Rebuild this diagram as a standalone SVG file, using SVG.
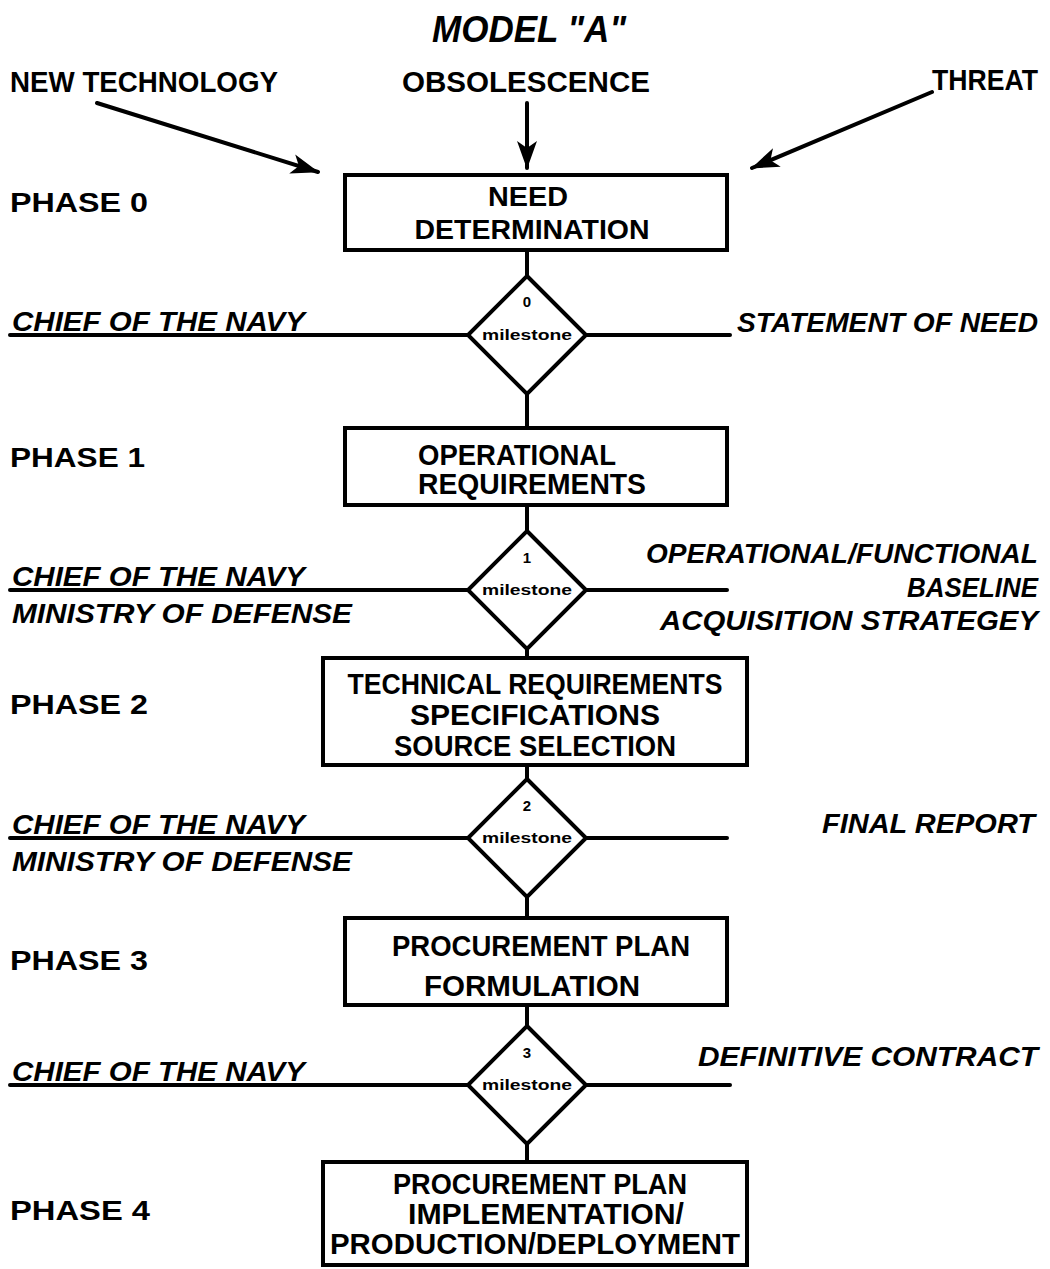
<svg xmlns="http://www.w3.org/2000/svg" width="1050" height="1269" viewBox="0 0 1050 1269">
<style>
text{font-family:"Liberation Sans",Arial,sans-serif;fill:#000;font-weight:bold}
.t{font-size:29px}
.s{font-size:27px}
.c{text-anchor:middle}
.e{text-anchor:end}
.it{font-style:italic;font-size:27px}
.ph{font-size:27px}
.ms{font-size:15px;text-anchor:middle}
.title{font-style:italic;font-weight:bold;font-size:37px}
.box{fill:#fff;stroke:#000;stroke-width:4}
.dia{fill:#fff;stroke:#000;stroke-width:4;stroke-linejoin:miter}
.ln{stroke:#000;stroke-width:4;fill:none;stroke-linecap:round}
</style>
<defs>
<marker id="ah" markerUnits="userSpaceOnUse" markerWidth="32" markerHeight="22" refX="27" refY="10" orient="auto">
<path d="M0,0 L28,10 L0,20 L7,10 z" fill="#000"/>
</marker>
</defs>
<rect width="1050" height="1269" fill="#fff"/>

<text class="title c" x="529" y="42" textLength="194" lengthAdjust="spacingAndGlyphs">MODEL "A"</text>

<g id="inputs">
<text class="t" x="10" y="92" textLength="268" lengthAdjust="spacingAndGlyphs">NEW TECHNOLOGY</text>
<text class="t" x="402" y="92" textLength="248" lengthAdjust="spacingAndGlyphs">OBSOLESCENCE</text>
<text class="t" x="932" y="90" textLength="106" lengthAdjust="spacingAndGlyphs">THREAT</text>
</g>

<g id="phases">
<text class="ph" x="10" y="212" textLength="138" lengthAdjust="spacingAndGlyphs">PHASE  0</text>
<text class="ph" x="10" y="467" textLength="135" lengthAdjust="spacingAndGlyphs">PHASE  1</text>
<text class="ph" x="10" y="714" textLength="138" lengthAdjust="spacingAndGlyphs">PHASE  2</text>
<text class="ph" x="10" y="970" textLength="138" lengthAdjust="spacingAndGlyphs">PHASE  3</text>
<text class="ph" x="10" y="1220" textLength="140" lengthAdjust="spacingAndGlyphs">PHASE  4</text>
</g>

<g id="connectors">
<line class="ln" x1="97" y1="103" x2="318" y2="172" marker-end="url(#ah)"/>
<line class="ln" x1="527" y1="103" x2="527" y2="168" marker-end="url(#ah)"/>
<line class="ln" x1="932" y1="92" x2="752" y2="168" marker-end="url(#ah)"/>
<line class="ln" x1="527" y1="250" x2="527" y2="276"/>
<line class="ln" x1="527" y1="394" x2="527" y2="428"/>
<line class="ln" x1="527" y1="505" x2="527" y2="531"/>
<line class="ln" x1="527" y1="649" x2="527" y2="658"/>
<line class="ln" x1="527" y1="765" x2="527" y2="779"/>
<line class="ln" x1="527" y1="897" x2="527" y2="918"/>
<line class="ln" x1="527" y1="1005" x2="527" y2="1026"/>
<line class="ln" x1="527" y1="1144" x2="527" y2="1162"/>
<line class="ln" x1="10" y1="335" x2="468" y2="335"/>
<line class="ln" x1="586" y1="335" x2="730" y2="335"/>
<line class="ln" x1="10" y1="590" x2="468" y2="590"/>
<line class="ln" x1="586" y1="590" x2="727" y2="590"/>
<line class="ln" x1="10" y1="838" x2="468" y2="838"/>
<line class="ln" x1="586" y1="838" x2="727" y2="838"/>
<line class="ln" x1="10" y1="1085" x2="468" y2="1085"/>
<line class="ln" x1="586" y1="1085" x2="730" y2="1085"/>
</g>

<g id="need-determination">
<rect class="box" x="345" y="175" width="382" height="75"/>
<text class="s c" x="528" y="206" textLength="80" lengthAdjust="spacingAndGlyphs">NEED</text>
<text class="s c" x="532" y="239" textLength="235" lengthAdjust="spacingAndGlyphs">DETERMINATION</text>
</g>

<g id="milestone0">
<polygon class="dia" points="527,276 586,335 527,394 468,335"/>
<text class="ms" x="527" y="307">0</text>
<text class="ms" x="527" y="340" textLength="90" lengthAdjust="spacingAndGlyphs">milestone</text>
<text class="it" x="12" y="331" textLength="293" lengthAdjust="spacingAndGlyphs">CHIEF OF THE NAVY</text>
<text class="it e" x="1038" y="332" textLength="301" lengthAdjust="spacingAndGlyphs">STATEMENT OF NEED</text>
</g>

<g id="operational-requirements">
<rect class="box" x="345" y="428" width="382" height="77"/>
<text class="t c" x="517" y="465" textLength="198" lengthAdjust="spacingAndGlyphs">OPERATIONAL</text>
<text class="t c" x="532" y="494" textLength="228" lengthAdjust="spacingAndGlyphs">REQUIREMENTS</text>
</g>

<g id="milestone1">
<polygon class="dia" points="527,531 586,590 527,649 468,590"/>
<text class="ms" x="527" y="563">1</text>
<text class="ms" x="527" y="595" textLength="90" lengthAdjust="spacingAndGlyphs">milestone</text>
<text class="it" x="12" y="586" textLength="293" lengthAdjust="spacingAndGlyphs">CHIEF OF THE NAVY</text>
<text class="it" x="12" y="623" textLength="340" lengthAdjust="spacingAndGlyphs">MINISTRY  OF  DEFENSE</text>
<text class="it e" x="1038" y="563" textLength="392" lengthAdjust="spacingAndGlyphs">OPERATIONAL/FUNCTIONAL</text>
<text class="it e" x="1038" y="597" textLength="131" lengthAdjust="spacingAndGlyphs">BASELINE</text>
<text class="it e" x="1038" y="630" textLength="378" lengthAdjust="spacingAndGlyphs">ACQUISITION  STRATEGEY</text>
</g>

<g id="technical-requirements">
<rect class="box" x="323" y="658" width="424" height="107"/>
<text class="t c" x="535" y="694" textLength="375" lengthAdjust="spacingAndGlyphs">TECHNICAL REQUIREMENTS</text>
<text class="t c" x="535" y="725" textLength="250" lengthAdjust="spacingAndGlyphs">SPECIFICATIONS</text>
<text class="t c" x="535" y="756" textLength="282" lengthAdjust="spacingAndGlyphs">SOURCE SELECTION</text>
</g>

<g id="milestone2">
<polygon class="dia" points="527,779 586,838 527,897 468,838"/>
<text class="ms" x="527" y="811">2</text>
<text class="ms" x="527" y="843" textLength="90" lengthAdjust="spacingAndGlyphs">milestone</text>
<text class="it" x="12" y="834" textLength="293" lengthAdjust="spacingAndGlyphs">CHIEF OF THE NAVY</text>
<text class="it" x="12" y="871" textLength="340" lengthAdjust="spacingAndGlyphs">MINISTRY  OF  DEFENSE</text>
<text class="it e" x="1035" y="833" textLength="213" lengthAdjust="spacingAndGlyphs">FINAL REPORT</text>
</g>

<g id="procurement-formulation">
<rect class="box" x="345" y="918" width="382" height="87"/>
<text class="t c" x="541" y="956" textLength="298" lengthAdjust="spacingAndGlyphs">PROCUREMENT PLAN</text>
<text class="t c" x="532" y="996" textLength="216" lengthAdjust="spacingAndGlyphs">FORMULATION</text>
</g>

<g id="milestone3">
<polygon class="dia" points="527,1026 586,1085 527,1144 468,1085"/>
<text class="ms" x="527" y="1058">3</text>
<text class="ms" x="527" y="1090" textLength="90" lengthAdjust="spacingAndGlyphs">milestone</text>
<text class="it" x="12" y="1081" textLength="293" lengthAdjust="spacingAndGlyphs">CHIEF OF THE NAVY</text>
<text class="it e" x="1038" y="1066" textLength="340" lengthAdjust="spacingAndGlyphs">DEFINITIVE  CONTRACT</text>
</g>

<g id="procurement-implementation">
<rect class="box" x="323" y="1162" width="424" height="103"/>
<text class="t c" x="540" y="1194" textLength="294" lengthAdjust="spacingAndGlyphs">PROCUREMENT PLAN</text>
<text class="t c" x="546" y="1224" textLength="276" lengthAdjust="spacingAndGlyphs">IMPLEMENTATION/</text>
<text class="t c" x="535" y="1254" textLength="410" lengthAdjust="spacingAndGlyphs">PRODUCTION/DEPLOYMENT</text>
</g>
</svg>
